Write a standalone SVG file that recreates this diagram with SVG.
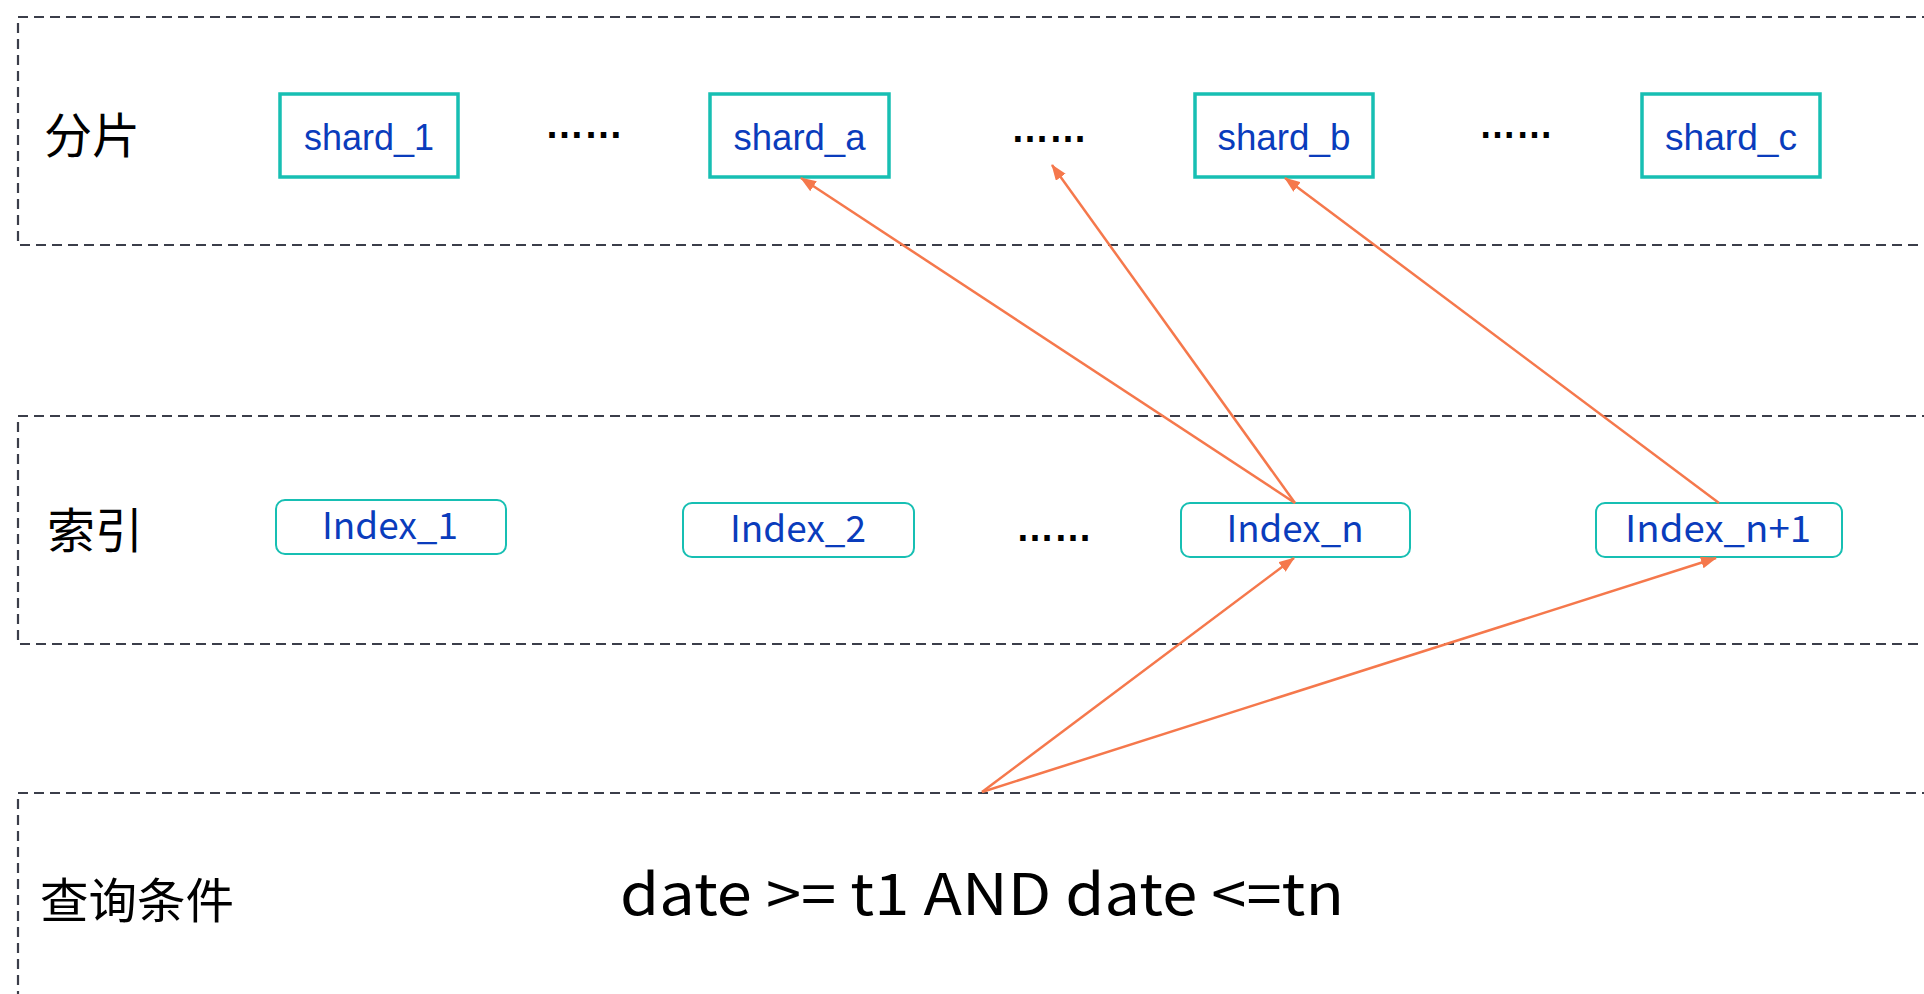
<svg xmlns="http://www.w3.org/2000/svg" width="1924" height="994" viewBox="0 0 1924 994">
  <defs>
    <style>
      .lane { fill: none; stroke: #3b3e4a; stroke-width: 2.2; stroke-dasharray: 10 6; }
      .shard { fill: #ffffff; stroke: #17bfb3; stroke-width: 3.5; }
      .index { fill: #ffffff; stroke: #17bfb3; stroke-width: 2; }
      .shard-text { font-family: "Liberation Sans", Arial, sans-serif; font-size: 37px; fill: #0a3cbc; text-anchor: middle; }
      .index-text { font-family: "Noto Sans CJK SC", "Noto Sans", sans-serif; font-size: 37px; fill: #0a3cbc; text-anchor: middle; }
      .lane-label { font-family: "Noto Sans CJK SC", "Noto Sans CJK JP", sans-serif; font-size: 48px; fill: #000000; }
      .dots { font-family: "Liberation Sans", Arial, sans-serif; font-size: 40px; font-weight: bold; fill: #000000; }
      .query { font-family: "Noto Sans CJK SC", "Noto Sans", sans-serif; font-size: 57px; fill: #000000; }
      .link { fill: none; stroke: #f5784c; stroke-width: 2.5; marker-end: url(#arrow); }
    </style>
    <marker id="arrow" markerUnits="userSpaceOnUse" markerWidth="16" markerHeight="12" refX="15" refY="6" orient="auto">
      <path d="M0,0 L16,6 L0,12 Z" fill="#f5784c"/>
    </marker>
  </defs>

  <rect width="1924" height="994" fill="#ffffff"/>

  <!-- swim lanes -->
  <g id="lanes">
    <rect class="lane" x="18" y="17" width="1940" height="228"/>
    <rect class="lane" x="18" y="416" width="1940" height="228"/>
    <rect class="lane" x="18" y="793" width="1940" height="260"/>
    <text class="lane-label" x="44" y="153">分片</text>
    <text class="lane-label" x="47" y="548">索引</text>
    <text class="lane-label" x="40" y="918" textLength="194" lengthAdjust="spacingAndGlyphs">查询条件</text>
  </g>

  <!-- shards -->
  <g id="shard_1">
    <rect class="shard" x="280" y="94" width="178" height="83"/>
    <text class="shard-text" x="369" y="150" textLength="130" lengthAdjust="spacingAndGlyphs">shard_1</text>
  </g>
  <g id="shard_a">
    <rect class="shard" x="710" y="94" width="179" height="83"/>
    <text class="shard-text" x="799.5" y="150" textLength="132" lengthAdjust="spacingAndGlyphs">shard_a</text>
  </g>
  <g id="shard_b">
    <rect class="shard" x="1195" y="94" width="178" height="83"/>
    <text class="shard-text" x="1284" y="150" textLength="133" lengthAdjust="spacingAndGlyphs">shard_b</text>
  </g>
  <g id="shard_c">
    <rect class="shard" x="1642" y="94" width="178" height="83"/>
    <text class="shard-text" x="1731" y="150" textLength="132" lengthAdjust="spacingAndGlyphs">shard_c</text>
  </g>
  <g id="shard_gaps">
    <text class="dots" x="545" y="138" textLength="78" lengthAdjust="spacingAndGlyphs">……</text>
    <text class="dots" x="1011" y="142" textLength="76" lengthAdjust="spacingAndGlyphs">……</text>
    <text class="dots" x="1479" y="138" textLength="74" lengthAdjust="spacingAndGlyphs">……</text>
  </g>

  <!-- indexes -->
  <g id="index_1">
    <rect class="index" x="276" y="500" width="230" height="54" rx="9"/>
    <text class="index-text" x="390" y="539" textLength="136" lengthAdjust="spacingAndGlyphs">Index_1</text>
  </g>
  <g id="index_2">
    <rect class="index" x="683" y="503" width="231" height="54" rx="9"/>
    <text class="index-text" x="798" y="542" textLength="136" lengthAdjust="spacingAndGlyphs">Index_2</text>
  </g>
  <g id="index_gap">
    <text class="dots" x="1016" y="541" textLength="76" lengthAdjust="spacingAndGlyphs">……</text>
  </g>
  <g id="index_n">
    <rect class="index" x="1181" y="503" width="229" height="54" rx="9"/>
    <text class="index-text" x="1295" y="542" textLength="137" lengthAdjust="spacingAndGlyphs">Index_n</text>
  </g>
  <g id="index_n1">
    <rect class="index" x="1596" y="503" width="246" height="54" rx="9"/>
    <text class="index-text" x="1718" y="542" textLength="186" lengthAdjust="spacingAndGlyphs">Index_n+1</text>
  </g>

  <!-- query condition -->
  <g id="query">
    <text class="query" x="620" y="915" textLength="724" lengthAdjust="spacingAndGlyphs">date &gt;= t1 AND date &lt;=tn</text>
  </g>

  <!-- connectors -->
  <g id="connectors">
    <line class="link" x1="1295" y1="503" x2="801" y2="178"/>
    <line class="link" x1="1295" y1="503" x2="1052" y2="165"/>
    <line class="link" x1="1719" y1="503" x2="1285" y2="178"/>
    <line class="link" x1="982" y1="792" x2="1294" y2="558"/>
    <line class="link" x1="982" y1="792" x2="1716" y2="558"/>
  </g>
</svg>
